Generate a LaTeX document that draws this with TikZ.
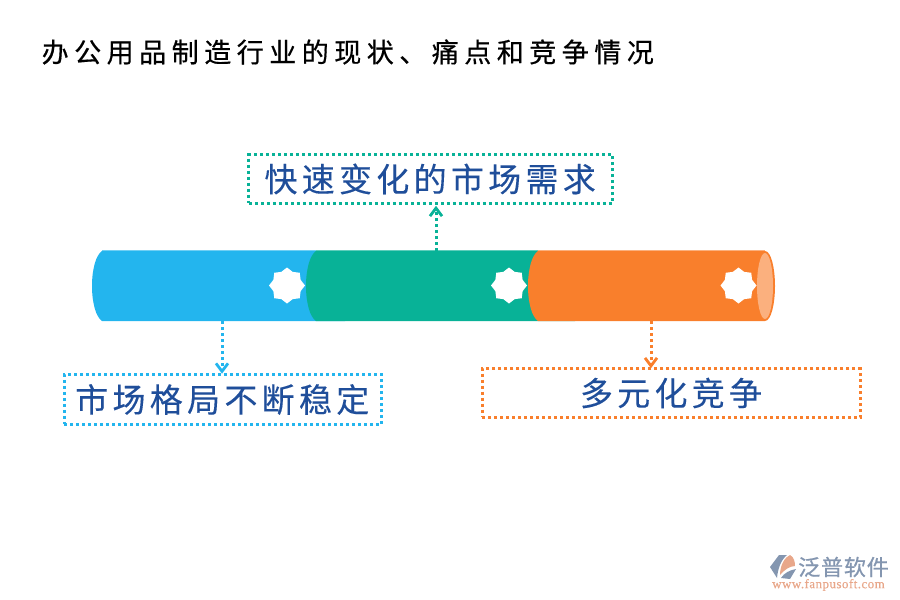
\documentclass[tikz,border=0pt]{standalone}
\usepackage{fontspec}
\usetikzlibrary{arrows.meta,shapes.geometric}
\newfontfamily\cjktitle[LetterSpace=20.4,FakeBold=0.5]{Noto Sans CJK SC}
\newfontfamily\cjkbox[LetterSpace=13,FakeBold=0.25]{Noto Sans CJK SC}
\newfontfamily\cjklogo[LetterSpace=4,FakeBold=0.8]{Noto Sans CJK SC}
\newfontfamily\urlfont[LetterSpace=3.5,FakeBold=0.4]{Liberation Serif}
\definecolor{tblue}{HTML}{23B5EE}
\definecolor{tgreen}{HTML}{08B297}
\definecolor{torange}{HTML}{F97F2C}
\definecolor{tend}{HTML}{FBB07E}
\definecolor{ink}{HTML}{1F4E9A}
\definecolor{logogray}{HTML}{8496B0}
\definecolor{logosalmon}{HTML}{E8A78A}
\tikzset{
  x=1pt,y=-1pt,
  labelbox/.style={draw=#1,line width=3pt,dash pattern=on 3pt off 3pt,inner sep=0pt,outer sep=0pt,anchor=north west,text=ink,align=center,font=\cjkbox\fontsize{33}{36}\selectfont},
  link/.style={draw=#1,line width=3pt,dash pattern=on 3pt off 3pt,-{Straight Barb[length=8pt,width=12pt,line width=2.8pt]}},
  badge/.style={star,star points=8,star point ratio=1.22,minimum size=36pt,inner sep=0pt,fill=white,draw=none},
}
\begin{document}
\begin{tikzpicture}
\useasboundingbox (0,0) rectangle (900,600);
\node[anchor=west,inner sep=0pt,font=\cjktitle\fontsize{27}{30}\selectfont] (title) at (41.5,52) {办公用品制造行业的现状、痛点和竞争情况};
% tubes
\draw[tblue!65,line width=.9pt] (102,250.6) -- (345,250.6);
\fill[tblue] (102,251) -- (345,251) -- (345,321) -- (102,321) .. controls (96,317) and (92,303) .. (92,286) .. controls (92,269) and (96,255) .. (102,251) -- cycle;
\node[badge] (s1) at (287,285.5) {};
\draw[tgreen!65,line width=.9pt] (316,250.6) -- (575,250.6);
\fill[tgreen] (316,251) -- (575,251) -- (575,321) -- (316,321) .. controls (310,317) and (306,303) .. (306,286) .. controls (306,269) and (310,255) .. (316,251) -- cycle;
\node[badge] (s2) at (509,285.5) {};
\draw[tend,line width=.9pt] (538,250.6) -- (765,250.6);
\fill[torange] (538,251) -- (765,251) .. controls (771,251) and (775,268) .. (775,286) .. controls (775,304) and (771,321) .. (765,321) -- (538,321) .. controls (532,317) and (528,303) .. (528,286) .. controls (528,269) and (532,255) .. (538,251) -- cycle;
\node[badge] (s3) at (738.5,285.5) {};
\fill[tend] (765,286) ellipse [x radius=8,y radius=33];
\coordinate (tb) at (222,321);
\coordinate (tg) at (436,251);
\coordinate (to) at (651,321);
% boxes
\node[labelbox=tgreen,minimum width=363.7pt,minimum height=48.6pt] (bg) at (248.8,154.7) {\raisebox{1pt}{\kern-1pt 快速变化的市场需求}};
\node[labelbox=tblue,minimum width=317.6pt,minimum height=49.6pt] (bb) at (64,374.7) {\raisebox{1pt}{\kern-1pt 市场格局不断稳定}};
\node[labelbox=torange,minimum width=378.2pt,minimum height=48.6pt] (bo) at (482.4,368.7) {\raisebox{1pt}{\kern-1pt 多元化竞争}};
% links
\draw[link=tgreen,shorten >=2.5pt] (tg) -- (bg.south -| tg);
\draw[link=tblue,shorten >=1pt] (tb) -- (bb.north -| tb);
\draw[link=torange,shorten >=.5pt] (to) -- (bo.north -| to);
% logo
\fill[logogray] (779,555) -- (787,555) .. controls (781,560) and (778,568) .. (777,578) -- (770,567) -- cycle;
\fill[logogray] (781,578) .. controls (784,573) and (790,570) .. (796,569) -- (790,579) -- cycle;
\fill[logosalmon] (780,575) .. controls (780,565) and (785,557) .. (790,555) .. controls (794,557) and (795,562) .. (795,566) .. controls (790,566) and (784,570) .. (780,575) -- cycle;
\node[anchor=west,inner sep=0pt,text=logogray,font=\cjklogo\fontsize{22}{24}\selectfont] (lt) at (798,567) {泛普软件};
\node[anchor=west,inner sep=0pt,text=logosalmon,font=\urlfont\fontsize{13}{14}\selectfont] (lu) at (772,585) {www.fanpusoft.com};
\end{tikzpicture}
\end{document}
